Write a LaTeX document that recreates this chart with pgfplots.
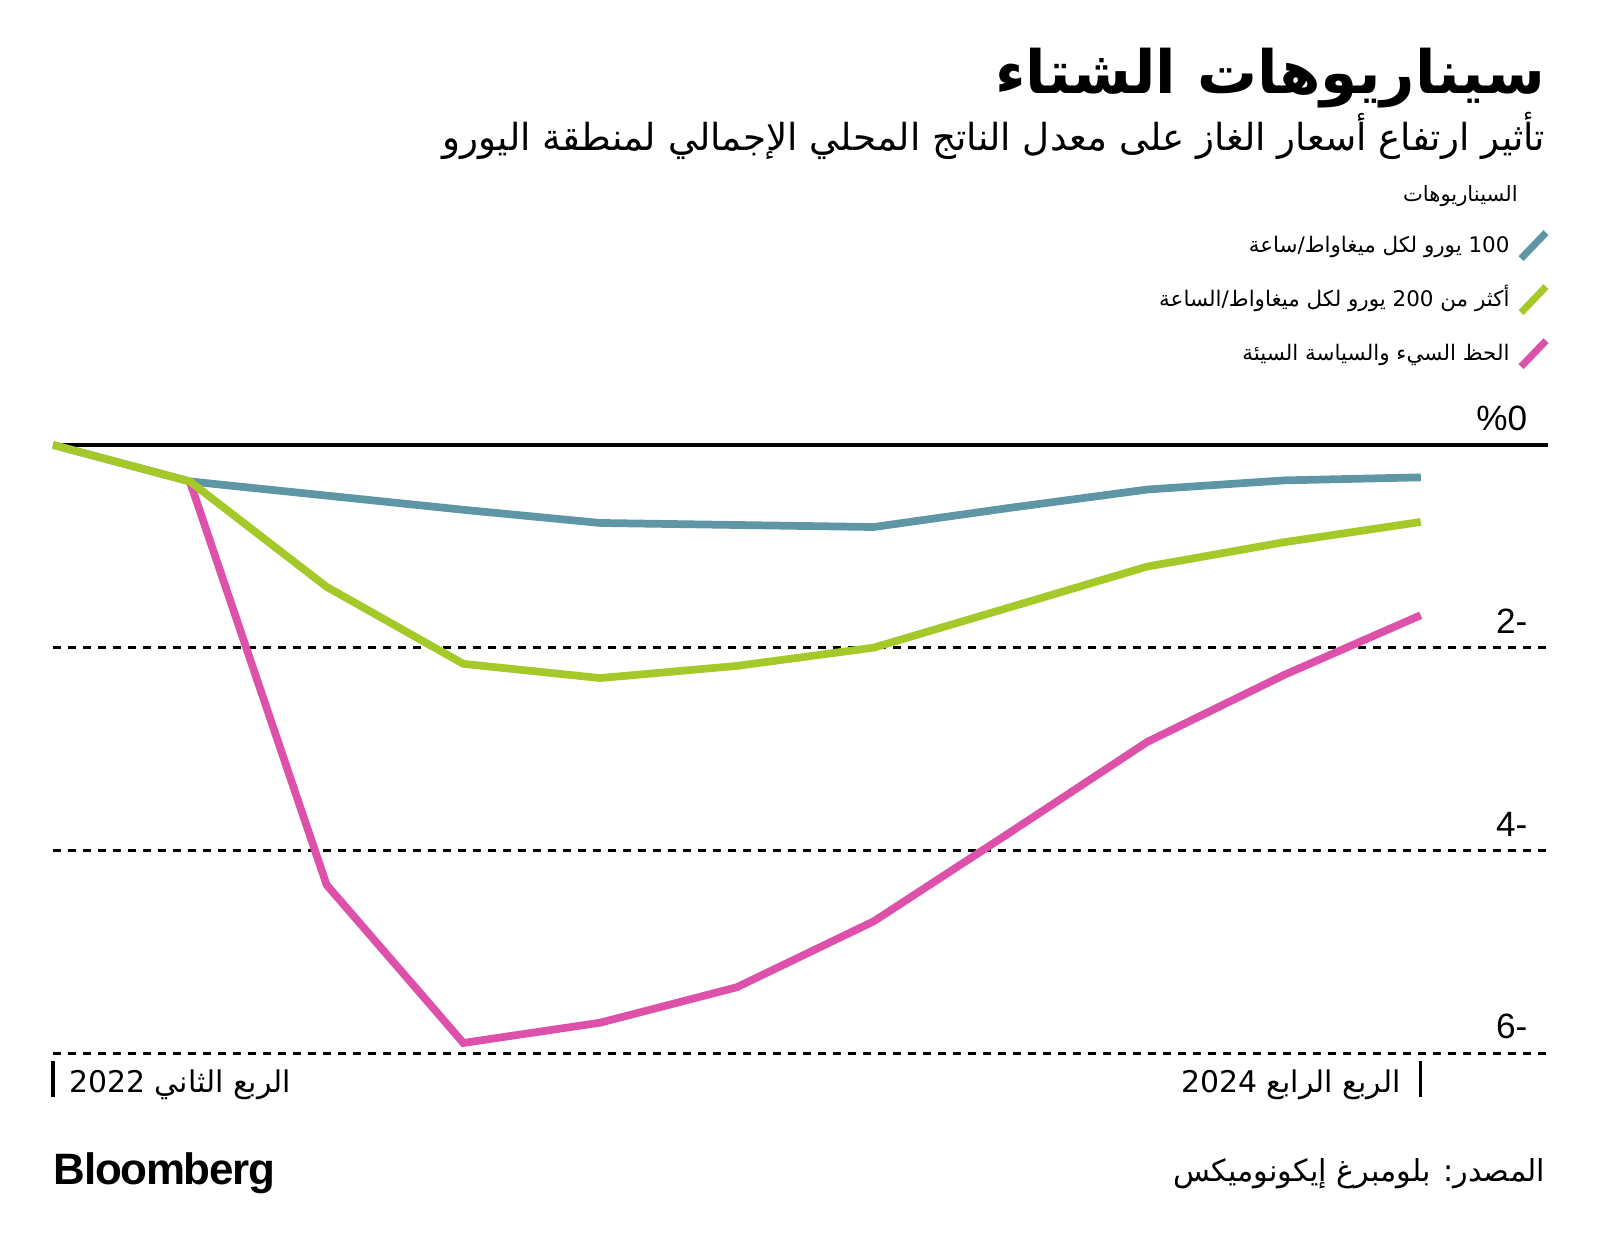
\documentclass[border=0pt]{standalone}
\usepackage{fontspec}
\setmainfont{Liberation Sans}
\newfontfamily\arabicfont[Script=Arabic]{DejaVu Sans}
\newfontfamily\bbgfont[LetterSpace=-3.0]{Liberation Sans}
\TeXXeTstate=1
\usepackage{pgfplots}
\pgfplotsset{compat=1.18}

\definecolor{bblue}{RGB}{94,150,165}
\definecolor{bgreen}{RGB}{166,201,42}
\definecolor{bpink}{RGB}{222,81,170}

\begin{document}
\begin{tikzpicture}

\begin{axis}[
    at={(0.5306cm,2.0cm)}, anchor=south west,
    scale only axis, width=14.949cm, height=6.082cm,
    xmin=0, xmax=10.93, ymin=-6, ymax=0,
    clip=false,
    axis line style={draw=none},
    xtick={0,10}, xtick pos=bottom,
    xticklabels={\rlap{\hspace{0.163cm}{\arabicfont\beginR الربع الثاني \beginL 2022\endL\endR}},
                 \llap{{\arabicfont\beginR الربع الرابع \beginL 2024\endL\endR}\hspace{0.2cm}}},
    xticklabel style={anchor=base, yshift=-0.03cm, inner sep=0pt,
        font=\fontsize{8.5}{10}\selectfont},
    xtick style={black, line width=0.9pt, yshift=-0.08cm},
    tick align=outside, major tick length=0.36cm,
    ytick={-6,-4,-2},
    yticklabels={6-,4-,2-},
    extra y ticks={0},
    extra y tick labels={\%0},
    yticklabel pos=right,
    yticklabel style={anchor=south east, xshift=-0.56cm, yshift=0.135cm,
        inner sep=0pt, font=\fontsize{10}{12}\selectfont},
    ytick style={draw=none},
    ymajorgrids,
    grid style={black, line width=0.85pt, dash pattern=on 0.08cm off 0.07cm},
    extra y tick style={grid style={black, solid, line width=1pt}},
    legend plot pos=right,
    legend cell align=right,
    legend style={at={(rel axis cs:1.0015,1.356)}, anchor=north east,
        draw=none, fill=none, inner sep=0pt, row sep=0.21cm,
        nodes={inner xsep=0.08cm, inner ysep=0pt, text height=0.2cm, text depth=0.07cm,
            font=\fontsize{6.1}{8}\selectfont},
        legend image code/.code={\draw[#1, line width=2pt] (0cm,-0.13cm) -- (0.25cm,0.13cm);}},
]
% 100 EUR/MWh
\addplot[bblue, line width=2.2pt, forget plot] coordinates {
    (0,0) (1,-0.36) (2,-0.50) (3,-0.64) (4,-0.77) (5,-0.79) (6,-0.81)
    (7,-0.62) (8,-0.44) (9,-0.35) (10,-0.32)
};
% bad luck and bad policy
\addplot[bpink, line width=2.2pt, forget plot] coordinates {
    (1,-0.36) (2,-4.34) (3,-5.90) (4,-5.70) (5,-5.35) (6,-4.70)
    (7,-3.82) (8,-2.93) (9,-2.27) (10,-1.68)
};
% > 200 EUR/MWh
\addplot[bgreen, line width=2.2pt, forget plot] coordinates {
    (0,0) (1,-0.36) (2,-1.40) (3,-2.16) (4,-2.30) (5,-2.18) (6,-2.0)
    (7,-1.60) (8,-1.20) (9,-0.96) (10,-0.76)
};
\addlegendimage{bblue}
\addlegendentry{{\arabicfont\beginR\beginL 100\endL{} يورو لكل ميغاواط/ساعة\endR}}
\addlegendimage{bgreen}
\addlegendentry{{\arabicfont\beginR أكثر من \beginL 200\endL{} يورو لكل ميغاواط/الساعة\endR}}
\addlegendimage{bpink}
\addlegendentry{{\arabicfont\beginR الحظ السيء والسياسة السيئة\endR}}
\end{axis}

\node[anchor=east, inner sep=0pt] at (15.459,11.75)
    {\fontsize{17}{20}\selectfont\bfseries\arabicfont\beginR سيناريوهات الشتاء\endR};
\node[anchor=east, inner sep=0pt] at (15.459,11.173)
    {\fontsize{10.6}{13}\selectfont\arabicfont\beginR تأثير ارتفاع أسعار الغاز على معدل الناتج المحلي الإجمالي لمنطقة اليورو\endR};
\node[anchor=east, inner sep=0pt] at (15.184,10.571)
    {\fontsize{6}{8}\selectfont\arabicfont\beginR السيناريوهات\endR};

\node[anchor=west, inner sep=0pt] at (0.531,0.796)
    {\fontsize{12.5}{14}\selectfont\bbgfont\bfseries Bloomberg};
\node[anchor=east, inner sep=0pt] at (15.459,0.796)
    {\fontsize{8.6}{10}\selectfont\arabicfont\beginR المصدر: بلومبرغ إيكونوميكس\endR};

\pgfresetboundingbox
\path[use as bounding box] (0,0) rectangle (16,12.531);
\end{tikzpicture}
\end{document}
